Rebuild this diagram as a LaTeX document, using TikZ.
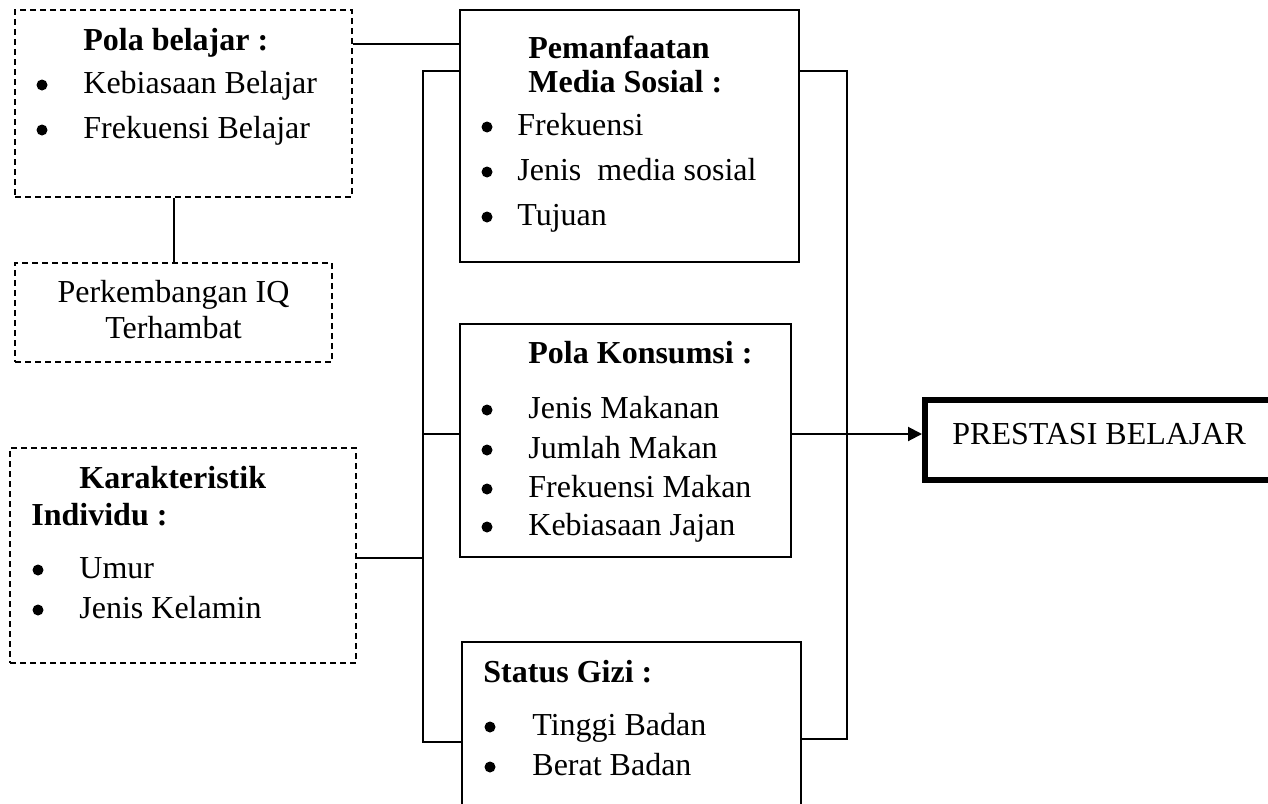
\documentclass[tikz,border=0pt]{standalone}
\usepackage{fontspec}
\setmainfont{Liberation Serif}
\usetikzlibrary{arrows.meta}
\newcommand{\isi}{\fontsize{16}{19}\selectfont}
\begin{document}
\begin{tikzpicture}
[x=0.5pt,y=-0.5pt,
  dashbox/.style={draw,dash pattern=on 3pt off 2pt,line width=0.8pt,inner sep=0pt},%
  solidbox/.style={draw,line width=1pt,inner sep=0pt},%
  tebal/.style={draw,line width=3pt,inner sep=0pt},%
  teks/.style={anchor=base west,inner sep=0pt,font=\isi},%
  judul/.style={anchor=base west,inner sep=0pt,font=\isi\bfseries},%
  tengah/.style={anchor=base,inner sep=0pt,font=\isi},%
  titik/.style={circle,fill,inner sep=0pt,minimum size=5.5pt},%
  garis/.style={line width=1pt},%
  panah/.style={line width=1pt,-{Triangle[length=7pt,width=7pt]}}]
\useasboundingbox (0,0) rectangle (1268,803);
% boxes
\node (pola) at (183.5,103.5) [dashbox,minimum width=168.5pt,minimum height=93.5pt] {};
\node (iq) at (173.5,312.5) [dashbox,minimum width=158.5pt,minimum height=49.5pt] {};
\node (kar) at (183,555.5) [dashbox,minimum width=173pt,minimum height=107.5pt] {};
\node (med) at (629.5,136) [solidbox,minimum width=169.5pt,minimum height=126pt] {};
\node (kons) at (625.5,440.5) [solidbox,minimum width=165.5pt,minimum height=116.5pt] {};
\node (gizi) at (631.5,741) [solidbox,minimum width=169.5pt,minimum height=99pt] {};
\node (prest) at (1107.5,440) [tebal,minimum width=182.5pt,minimum height=40pt] {};
% texts in the boxes
\node (polaj) at (83,50) [judul] {Pola belajar :};
\node (polab1) at (42,85) [titik] {};
\node (polat1) at (83,93) [teks] {Kebiasaan Belajar};
\node (polab2) at (42,130) [titik] {};
\node (polat2) at (83,138) [teks] {Frekuensi Belajar};
\node (iqt1) at (173.5,302) [tengah] {Perkembangan IQ};
\node (iqt2) at (173.5,338) [tengah] {Terhambat};
\node (karj1) at (79,488) [judul] {Karakteristik};
\node (karj2) at (31,525) [judul] {Individu :};
\node (karb1) at (38,570) [titik] {};
\node (kart1) at (79,578) [teks] {Umur};
\node (karb2) at (38,610) [titik] {};
\node (kart2) at (79,618) [teks] {Jenis Kelamin};
\node (medj1) at (528,58) [judul] {Pemanfaatan};
\node (medj2) at (528,92) [judul] {Media Sosial :};
\node (medb1) at (487,127) [titik] {};
\node (medt1) at (517,135) [teks] {Frekuensi};
\node (medb2) at (487,172) [titik] {};
\node (medt2) at (517,180) [teks] {Jenis\ \ media sosial};
\node (medb3) at (487,217) [titik] {};
\node (medt3) at (517,225) [teks] {Tujuan};
\node (konsj) at (528,363) [judul] {Pola Konsumsi :};
\node (konsb1) at (487,410) [titik] {};
\node (konst1) at (528,418) [teks] {Jenis Makanan};
\node (konsb2) at (487,450) [titik] {};
\node (konst2) at (528,458) [teks] {Jumlah Makan};
\node (konsb3) at (487,489) [titik] {};
\node (konst3) at (528,497) [teks] {Frekuensi Makan};
\node (konsb4) at (487,527) [titik] {};
\node (konst4) at (528,535) [teks] {Kebiasaan Jajan};
\node (gizij) at (483,682) [judul] {Status Gizi :};
\node (gizib1) at (490,727) [titik] {};
\node (gizit1) at (532,735) [teks] {Tinggi Badan};
\node (gizib2) at (490,767) [titik] {};
\node (gizit2) at (532,775) [teks] {Berat Badan};
\node (prestt) at (952,444) [teks] {PRESTASI BELAJAR};
% bus lines
\coordinate (kiri) at (423,0);
\coordinate (kanan) at (847,0);
% edges or lines
\draw[garis] (pola.east |- 0,44) -- (med.west |- 0,44);
\draw[garis] (pola.south -| iq.north) -- (iq.north);
\draw[garis] (med.west |- 0,71) -| (kiri |- 0,742) -- (gizi.west |- 0,742);
\draw[garis] (kons.west |- 0,434) -- (kiri |- 0,434);
\draw[garis] (kar.east |- 0,558) -- (kiri |- 0,558);
\draw[garis] (med.east |- 0,71) -| (kanan |- 0,739) -- (gizi.east |- 0,739);
\draw[panah] (kons.east |- 0,434) -- (prest.west |- 0,434);
\end{tikzpicture}
\end{document}
